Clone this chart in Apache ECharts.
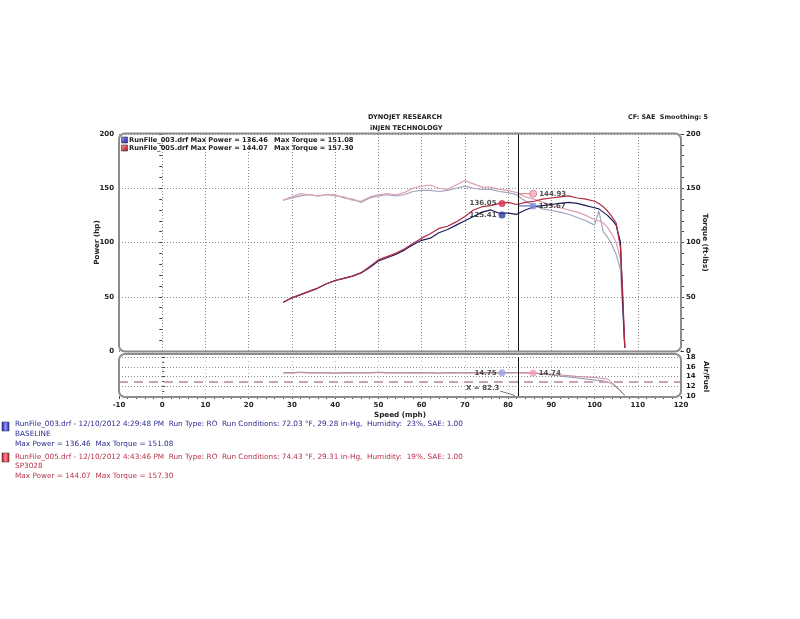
<!DOCTYPE html>
<html><head><meta charset="utf-8">
<script src="https://cdn.jsdelivr.net/npm/echarts@6/dist/echarts.min.js"></script>
<style>html,body{margin:0;padding:0;background:#fff}#c{width:800px;height:619px}</style>
</head><body><div id="c"></div>
<script>
// ---- data ----
const speed = [28,30,32,34,36,38,40,42,44,46,48,50,52,54,56,58,60,62,64,66,68,70,72,74,76,78,80,82,84,86,88,90,92,94,96,98,100,101,102,103,104,105,106,106.5,107];
const powerRun005 = [45,49,52,55,58,62,65,67,69,72,78,84,87,90,94,99,104,108,113,115,119,124,130,133,134,136,137,135,137,138,140,141,142,143,141,140,138,136,133,129,124,118,95,55,3];
const powerRun003 = [45,49,52,55,58,62,65,67,69,72,77,83,86,89,93,98,102,104,109,112,116,120,124,128,130,127,127,126,130,133,134,135,136,137,136,134,132,131,128,125,121,116,100,45,3];
const torqueRun005 = [139,142,145,144,143,144,143,142,139,138,142,144,145,144,146,150,152,153,150,149,153,157,154,151,151,149,148,146,142,140,137,134,132,130,128,125,121,120,118,114,108,100,85,50,3];
const torqueRun003 = [139,141,143,144,143,144,144,141,140,137,141,143,144,143,144,147,148,148,147,148,150,152,150,149,149,147,146,144,138,134,131,129.5,128,126,123,120,116,129,110,105,98,89,75,40,3];
const afrRun003 = [14.8,14.8,14.9,14.8,14.8,14.8,14.7,14.8,14.8,14.8,14.8,14.9,14.8,14.8,14.8,14.8,14.8,14.8,14.7,14.8,14.8,14.8,14.8,14.8,14.8,14.75,14.8,14.8,14.8,14.7,14.5,14.3,14.1,13.9,13.7,13.5,13.3,13.2,13.1,12.9,12.5,11.8,11.0,10.5,10.1];
const afrRun005 = [14.7,14.7,14.8,14.7,14.7,14.7,14.7,14.7,14.7,14.7,14.7,14.8,14.7,14.7,14.7,14.7,14.7,14.7,14.7,14.7,14.7,14.7,14.7,14.7,14.7,14.7,14.7,14.74,14.74,14.74,14.6,14.4,14.3,14.2,14.0,13.9,13.8,13.7,13.6,13.5,12.8,12.0,11.2,10.6,10.2];
const afrTarget = 13;
const cursorSpeed = 82.3;
const markerSpeeds = [78.6, 85.8];
const cursorPower = [136.05, 125.41];   // run005, run003 (left markers)
const cursorTorque = [144.93, 133.67];  // run005, run003 (right markers)
const cursorAfr = [14.75, 14.74];       // run003 (left), run005 (right)
const xTicks = [-10, 120, 10];
const powerTicks = [0, 200, 50];
const afrTicks = [10, 18, 2];

const pairs = (xs, ys) => xs.map((x, i) => [x, ys[i]]);
const F = 'DejaVu Sans';
const bold = {fontFamily: F, fontWeight: 'bold', fontSize: 7, color: '#222'};
const dotted = {type: [1, 2], color: '#8a8a8a', width: 1};

const chart = echarts.init(document.getElementById('c'), null, {renderer: 'canvas'});

const ptLabel = (pos) => ({show: true, position: pos, distance: 2, formatter: p => p.value[1].toFixed(2), ...bold});
const nameStyle = {...bold, fontSize: 7.2};

const option = {
  animation: false,
  backgroundColor: '#fff',
  grid: [
    {left: 119, top: 134, width: 562, height: 217},
    {left: 119, top: 357, width: 562, height: 39}
  ],
  xAxis: [
    {gridIndex: 0, type: 'value', min: xTicks[0], max: xTicks[1], interval: xTicks[2],
     axisLabel: {show: false}, axisTick: {show: false}, axisLine: {show: false},
     splitLine: {show: true, lineStyle: dotted}},
    {gridIndex: 1, type: 'value', min: xTicks[0], max: xTicks[1], interval: xTicks[2],
     axisLabel: {...bold, margin: 6}, axisLine: {show: false},
     axisTick: {show: true, length: 3, lineStyle: {color: '#444'}},
     minorTick: {show: true, splitNumber: 5, length: 3, lineStyle: {color: '#444'}},
     splitLine: {show: true, lineStyle: {type: [1, 3], color: '#bbb'}},
     name: 'Speed (mph)', nameLocation: 'middle', nameGap: 16, nameMoveOverlap: false,
     nameTextStyle: nameStyle}
  ],
  yAxis: [
    {gridIndex: 0, type: 'value', min: powerTicks[0], max: powerTicks[1], interval: powerTicks[2], position: 'left',
     axisLabel: {...bold, margin: 5}, axisLine: {show: false},
     axisTick: {show: true, length: 3, lineStyle: {color: '#444'}},
     minorTick: {show: true, splitNumber: 5, length: 3, lineStyle: {color: '#444'}},
     splitLine: {show: true, lineStyle: dotted},
     name: 'Power (hp)', nameLocation: 'middle', nameGap: 18, nameMoveOverlap: false, nameTextStyle: nameStyle},
    {gridIndex: 0, type: 'value', min: powerTicks[0], max: powerTicks[1], interval: powerTicks[2], position: 'right',
     axisLabel: {...bold, margin: 5}, axisLine: {show: false},
     axisTick: {show: true, length: 3, lineStyle: {color: '#444'}},
     minorTick: {show: true, splitNumber: 5, length: 3, lineStyle: {color: '#444'}},
     splitLine: {show: false},
     name: 'Torque (ft-lbs)', nameLocation: 'middle', nameGap: 20, nameRotate: -90, nameMoveOverlap: false, nameTextStyle: nameStyle},
    {gridIndex: 1, type: 'value', min: afrTicks[0], max: afrTicks[1], interval: afrTicks[2], position: 'right',
     axisLabel: {...bold, margin: 5}, axisLine: {show: false},
     axisTick: {show: true, length: 3, lineStyle: {color: '#444'}},
     minorTick: {show: true, splitNumber: 2, length: 2, lineStyle: {color: '#444'}},
     splitLine: {show: true, lineStyle: dotted},
     name: 'Air/Fuel', nameLocation: 'middle', nameGap: 21, nameRotate: -90, nameMoveOverlap: false, nameTextStyle: nameStyle}
  ],
  series: [
    {type: 'line', xAxisIndex: 0, yAxisIndex: 1, data: pairs(speed, torqueRun003), showSymbol: false,
     lineStyle: {color: '#a3a3bd', width: 1.2}, z: 2},
    {type: 'line', xAxisIndex: 0, yAxisIndex: 1, data: pairs(speed, torqueRun005), showSymbol: false,
     lineStyle: {color: '#d9a3b0', width: 1.2}, z: 2},
    {type: 'line', xAxisIndex: 0, yAxisIndex: 0, data: pairs(speed, powerRun003), showSymbol: false,
     lineStyle: {color: '#1c1c5c', width: 1.2}, z: 3},
    {type: 'line', xAxisIndex: 0, yAxisIndex: 0, data: pairs(speed, powerRun005), showSymbol: false,
     lineStyle: {color: '#b02a44', width: 1.2}, z: 3,
     markLine: {silent: true, symbol: 'none', label: {show: false}, data: [{xAxis: cursorSpeed}],
       lineStyle: {color: '#111', width: 1, type: 'solid'}}},
    // cursor readout connectors
    {type: 'line', xAxisIndex: 0, yAxisIndex: 1, data: [[cursorSpeed, cursorTorque[0]], [markerSpeeds[1], cursorTorque[0]]],
     showSymbol: false, lineStyle: {color: '#e07080', width: 1.2}, z: 4},
    {type: 'line', xAxisIndex: 0, yAxisIndex: 1, data: [[cursorSpeed, cursorTorque[1]], [markerSpeeds[1], cursorTorque[1]]],
     showSymbol: false, lineStyle: {color: '#6a78c8', width: 1.2}, z: 4},
    // markers
    {type: 'scatter', xAxisIndex: 0, yAxisIndex: 0, symbolSize: 7, z: 5,
     data: [{value: [markerSpeeds[0], cursorPower[0]], itemStyle: {color: '#d8304c'}},
            {value: [markerSpeeds[0], cursorPower[1]], itemStyle: {color: '#2a3aa0'}}],
     label: ptLabel('left')},
    {type: 'scatter', xAxisIndex: 0, yAxisIndex: 1, symbolSize: 7, z: 5,
     data: [{value: [markerSpeeds[1], cursorTorque[0]], itemStyle: {color: '#f0b0b8', borderColor: '#d87080', borderWidth: 1}},
            {value: [markerSpeeds[1], cursorTorque[1]], itemStyle: {color: '#8090d8'}}],
     label: ptLabel('right')},
    // AFR panel
    {type: 'line', xAxisIndex: 1, yAxisIndex: 2, data: pairs(speed, afrRun003), showSymbol: false,
     lineStyle: {color: '#8f8fa8', width: 1}, z: 3},
    {type: 'line', xAxisIndex: 1, yAxisIndex: 2, data: pairs(speed, afrRun005), showSymbol: false,
     lineStyle: {color: '#c88a9c', width: 1}, z: 3,
     markLine: {silent: true, symbol: 'none', label: {show: false},
       data: [{xAxis: cursorSpeed, lineStyle: {color: '#111', width: 1, type: 'solid'}},
              {yAxis: afrTarget, lineStyle: {color: '#c9a3b3', width: 2, type: [9, 6]}}]}},
    {type: 'line', xAxisIndex: 1, yAxisIndex: 2, data: [[cursorSpeed, cursorAfr[1]], [markerSpeeds[1], cursorAfr[1]]],
     showSymbol: false, lineStyle: {color: '#e090a8', width: 1}, z: 4},
    {type: 'scatter', xAxisIndex: 1, yAxisIndex: 2, symbolSize: 7, z: 5,
     data: [{value: [markerSpeeds[0], cursorAfr[0]], itemStyle: {color: '#9aa0e8'}}],
     label: ptLabel('left')},
    {type: 'scatter', xAxisIndex: 1, yAxisIndex: 2, symbolSize: 7, z: 5,
     data: [{value: [markerSpeeds[1], cursorAfr[1]], itemStyle: {color: '#f0a0b8'}}],
     label: ptLabel('right')},
    {type: 'line', xAxisIndex: 1, yAxisIndex: 2, data: [[78.2, 11.0], [81.6, 10.1]],
     showSymbol: false, lineStyle: {color: '#555', width: 0.8}, z: 4},
    {type: 'scatter', xAxisIndex: 1, yAxisIndex: 2, symbolSize: 0, z: 5,
     data: [[78.0, 11.6]],
     label: {show: true, position: 'left', distance: 0, formatter: () => 'X = ' + cursorSpeed, ...bold}}
  ],
  graphic: [
    {type: 'rect', shape: {x: 119, y: 133.5, width: 562, height: 218, r: 6}, style: {fill: 'none', stroke: '#8c8c8c', lineWidth: 2}, z: 10, silent: true},
    {type: 'rect', shape: {x: 119, y: 354, width: 562, height: 43, r: 6}, style: {fill: 'none', stroke: '#8c8c8c', lineWidth: 2}, z: 10, silent: true},
    {type: 'text', left: 368, top: 114, style: {text: 'DYNOJET RESEARCH', font: 'bold 6.6px "DejaVu Sans"', fill: '#222'}},
    {type: 'text', left: 370, top: 124.5, style: {text: 'iNJEN TECHNOLOGY', font: 'bold 6.6px "DejaVu Sans"', fill: '#222'}},
    {type: 'text', left: 628, top: 114, style: {text: 'CF: SAE  Smoothing: 5', font: 'bold 6.4px "DejaVu Sans"', fill: '#222'}},
    // in-plot legend
    {type: 'rect', shape: {x: 121.5, y: 137, width: 6, height: 6}, style: {stroke: '#333', lineWidth: 0.6,
      fill: new echarts.graphic.LinearGradient(0, 0, 1, 1, [{offset: 0, color: '#9aa0ff'}, {offset: 1, color: '#1a1a8a'}])}, z: 11},
    {type: 'rect', shape: {x: 121.5, y: 145, width: 6, height: 6}, style: {stroke: '#333', lineWidth: 0.6,
      fill: new echarts.graphic.LinearGradient(0, 0, 1, 1, [{offset: 0, color: '#ff9aa0'}, {offset: 1, color: '#a01028'}])}, z: 11},
    {type: 'text', left: 129, top: 137, style: {text: 'RunFile_003.drf Max Power = 136.46', font: 'bold 6.7px "DejaVu Sans"', fill: '#222'}, z: 11},
    {type: 'text', left: 274, top: 137, style: {text: 'Max Torque = 151.08', font: 'bold 6.7px "DejaVu Sans"', fill: '#222'}, z: 11},
    {type: 'text', left: 129, top: 145, style: {text: 'RunFile_005.drf Max Power = 144.07', font: 'bold 6.7px "DejaVu Sans"', fill: '#222'}, z: 11},
    {type: 'text', left: 274, top: 145, style: {text: 'Max Torque = 157.30', font: 'bold 6.7px "DejaVu Sans"', fill: '#222'}, z: 11},
    // bottom run info
    {type: 'rect', shape: {x: 2, y: 422, width: 7, height: 9}, style: {stroke: '#223', lineWidth: 0.5,
      fill: new echarts.graphic.LinearGradient(0, 0, 1, 0, [{offset: 0, color: '#1a1aa0'}, {offset: 0.5, color: '#8a90ff'}, {offset: 1, color: '#2a2ab0'}])}},
    {type: 'text', left: 15, top: 421, style: {text: 'RunFile_003.drf - 12/10/2012 4:29:48 PM  Run Type: RO  Run Conditions: 72.03 \u00b0F, 29.28 in-Hg,  Humidity:  23%, SAE: 1.00', font: '7.3px "DejaVu Sans"', fill: '#2c2c8e'}},
    {type: 'text', left: 15, top: 430.5, style: {text: 'BASELINE', font: '7.3px "DejaVu Sans"', fill: '#2c2c8e'}},
    {type: 'text', left: 15, top: 440.5, style: {text: 'Max Power = 136.46  Max Torque = 151.08', font: '7.3px "DejaVu Sans"', fill: '#2c2c8e'}},
    {type: 'rect', shape: {x: 2, y: 453, width: 7, height: 9}, style: {stroke: '#322', lineWidth: 0.5,
      fill: new echarts.graphic.LinearGradient(0, 0, 1, 0, [{offset: 0, color: '#b01020'}, {offset: 0.5, color: '#ff8a90'}, {offset: 1, color: '#c01828'}])}},
    {type: 'text', left: 15, top: 453.5, style: {text: 'RunFile_005.drf - 12/10/2012 4:43:46 PM  Run Type: RO  Run Conditions: 74.43 \u00b0F, 29.31 in-Hg,  Humidity:  19%, SAE: 1.00', font: '7.3px "DejaVu Sans"', fill: '#b8344c'}},
    {type: 'text', left: 15, top: 463, style: {text: 'SP3028', font: '7.3px "DejaVu Sans"', fill: '#b8344c'}},
    {type: 'text', left: 15, top: 473, style: {text: 'Max Power = 144.07  Max Torque = 157.30', font: '7.3px "DejaVu Sans"', fill: '#b8344c'}}
  ]
};
chart.setOption(option);
</script></body></html>
